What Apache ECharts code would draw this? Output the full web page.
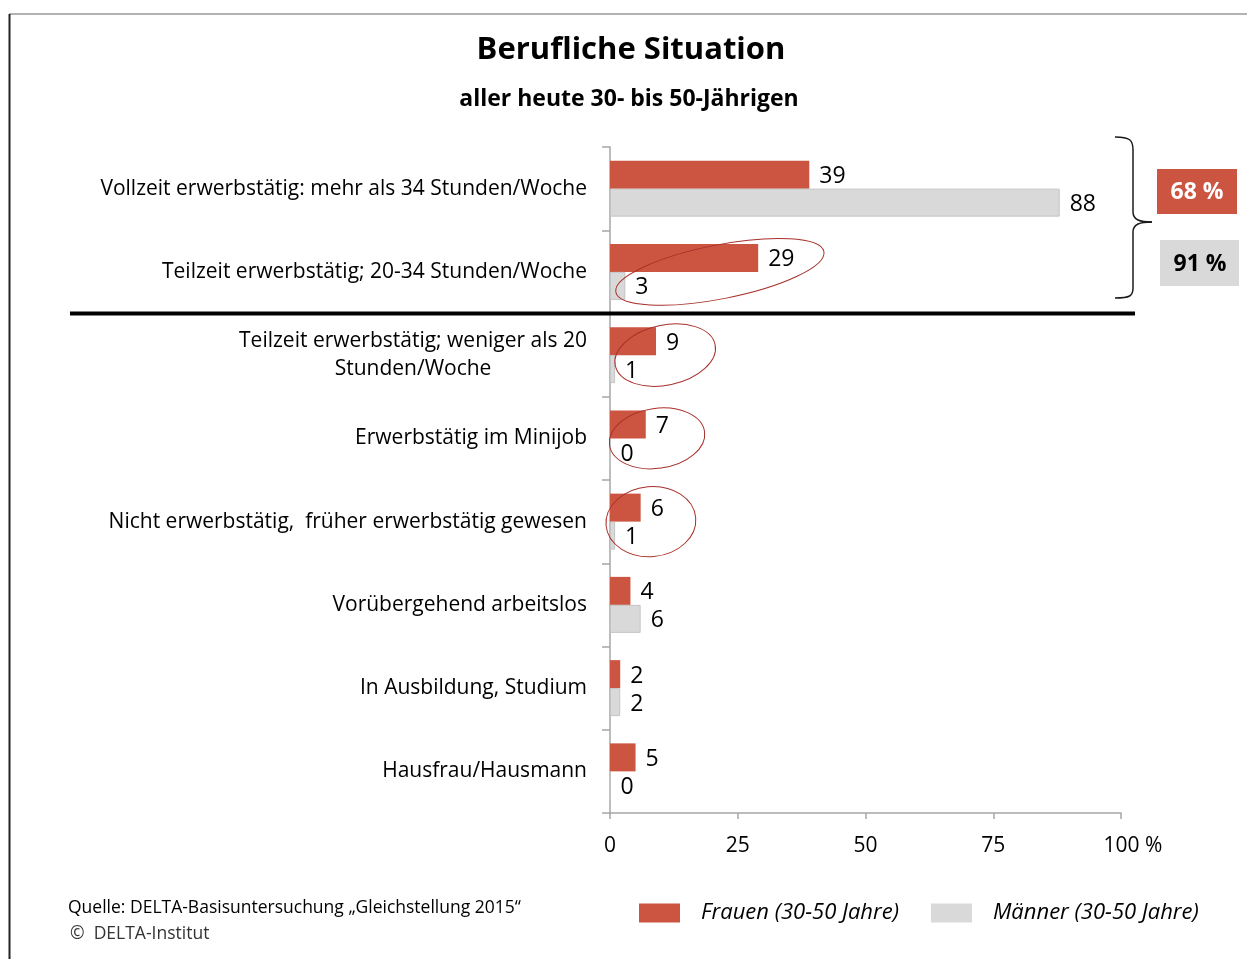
<!DOCTYPE html>
<html>
<head>
<meta charset="utf-8">
<script src="https://cdn.jsdelivr.net/npm/echarts@6/dist/echarts.min.js"></script>
<style>
  html, body { margin: 0; padding: 0; background: #fff; }
  #chart { width: 1247px; height: 959px; }
</style>
</head>
<body>
<div id="chart"></div>
<script>
// Kategorien (von oben nach unten)
const categories = [
  'Vollzeit erwerbstätig: mehr als 34 Stunden/Woche',
  'Teilzeit erwerbstätig; 20-34 Stunden/Woche',
  'Teilzeit erwerbstätig; weniger als 20\nStunden/Woche',
  'Erwerbstätig im Minijob',
  'Nicht erwerbstätig,  früher erwerbstätig gewesen',
  'Vorübergehend arbeitslos',
  'In Ausbildung, Studium',
  'Hausfrau/Hausmann'
]
const frauen = [39, 29, 9, 7, 6, 4, 2, 5]
const maenner = [88, 3, 1, 0, 1, 6, 2, 0]
const xTicks = [0, 25, 50, 75, 100]
const seriesNames = ['Frauen (30-50 Jahre)', 'Männer (30-50 Jahre)']
const sumFrauen = '68 %'
const sumMaenner = '91 %'

const RED = '#cb5540'
const GREY = '#d9d9d9'
const FONT = 'Open Sans'

const chart = echarts.init(document.getElementById('chart'))

const option = {
  animation: false,
  textStyle: { fontFamily: FONT },
  title: [
    {
      text: 'Berufliche Situation',
      left: 626, top: 30, textAlign: 'center',
      textStyle: { fontSize: 31, fontWeight: 'bold', color: '#000', fontFamily: FONT }
    },
    {
      text: 'aller heute 30- bis 50-Jährigen',
      left: 624, top: 83, textAlign: 'center',
      textStyle: { fontSize: 23, fontWeight: 'bold', color: '#000', fontFamily: FONT }
    }
  ],
  legend: {
    left: 639, top: 902, padding: 0,
    itemWidth: 41, itemHeight: 19, itemGap: 32,
    icon: 'rect',
    itemStyle: { borderWidth: 0 },
    textStyle: { fontSize: 22, fontStyle: 'italic', color: '#000', fontFamily: FONT, padding: [0, 0, 0, 16] },
    data: seriesNames
  },
  grid: { left: 610, right: 126, top: 147, bottom: 146, containLabel: false },
  xAxis: {
    type: 'value', min: 0, max: 100, interval: 25,
    axisLine: { show: true, lineStyle: { color: '#a6a6a6', width: 1.5 } },
    axisTick: { show: true, length: 6, lineStyle: { color: '#a6a6a6', width: 1.5 } },
    splitLine: { show: false },
    axisLabel: {
      margin: 23, fontSize: 21, color: '#000', fontFamily: FONT,
      formatter: v => (xTicks.indexOf(v) === xTicks.length - 1 ? '{p|' + v + ' %}' : String(v)),
      rich: { p: { fontSize: 21, fontFamily: FONT, color: '#000', padding: [0, 0, 0, 24] } }
    }
  },
  yAxis: {
    type: 'category', inverse: true, data: categories,
    axisLine: { show: true, lineStyle: { color: '#a6a6a6', width: 1.5 } },
    axisTick: { show: true, length: 8, lineStyle: { color: '#a6a6a6', width: 1.5 } },
    axisLabel: {
      margin: 23, fontSize: 21, color: '#000', fontFamily: FONT, lineHeight: 28,
      formatter: v => v.split('\n').map(s => '{c|' + s + '}').join('\n'),
      rich: { c: { align: 'center', fontSize: 21, fontFamily: FONT, color: '#000', lineHeight: 28 } }
    }
  },
  series: [
    {
      name: seriesNames[0], type: 'bar', data: frauen,
      barWidth: 28, barGap: '0%',
      itemStyle: { color: RED },
      label: { show: true, position: 'right', distance: 10, fontSize: 23, color: '#000', fontFamily: FONT, offset: [0, 2] }
    },
    {
      name: seriesNames[1], type: 'bar', data: maenner,
      barWidth: 28,
      itemStyle: { color: GREY, borderColor: '#c4c4c4', borderWidth: 1 },
      label: { show: true, position: 'right', distance: 10, fontSize: 23, color: '#000', fontFamily: FONT, offset: [0, 2] }
    }
  ]
}

chart.setOption(option)

// Anmerkungen: Ellipsen um die Werte [kategorie, x-wert, rx, ry, drehung in grad]
const ellipsen = [
  [1, 21.5, 106, 27, 11],
  [2, 10.8, 51, 30, 12],
  [3, 9.2, 48, 30, 8],
  [4, 8, 45, 35, 5]
]

const graphics = []
ellipsen.forEach(e => {
  const p = chart.convertToPixel({ xAxisIndex: 0, yAxisIndex: 0 }, [e[1], e[0]])
  graphics.push({
    type: 'ellipse', x: p[0], y: p[1], rotation: e[4] * Math.PI / 180,
    shape: { cx: 0, cy: 0, rx: e[2], ry: e[3] },
    style: { fill: 'none', stroke: '#a8302a', lineWidth: 1 }, z: 10
  })
})

// dicke Trennlinie zwischen Kategorie 2 und 3
const yA = chart.convertToPixel({ yAxisIndex: 0 }, 1)
const yB = chart.convertToPixel({ yAxisIndex: 0 }, 2)
const yTrenn = (yA + yB) / 2
graphics.push({
  type: 'line', shape: { x1: 70, y1: yTrenn, x2: 1135, y2: yTrenn },
  style: { stroke: '#000', lineWidth: 4 }, z: 20
})

// geschweifte Klammer
const bs = { stroke: '#1a1a1a', lineWidth: 1.5, fill: 'none' }
graphics.push(
  { type: 'bezierCurve', shape: { x1: 1115, y1: 137, cpx1: 1130, cpy1: 137, cpx2: 1133, cpy2: 140, x2: 1133, y2: 150 }, style: bs },
  { type: 'line', shape: { x1: 1133, y1: 150, x2: 1133, y2: 212 }, style: bs },
  { type: 'bezierCurve', shape: { x1: 1133, y1: 212, cpx1: 1133, cpy1: 220, cpx2: 1140, cpy2: 222, x2: 1152, y2: 222 }, style: bs },
  { type: 'bezierCurve', shape: { x1: 1152, y1: 222, cpx1: 1140, cpy1: 222, cpx2: 1133, cpy2: 224, x2: 1133, y2: 232 }, style: bs },
  { type: 'line', shape: { x1: 1133, y1: 232, x2: 1133, y2: 288 }, style: bs },
  { type: 'bezierCurve', shape: { x1: 1133, y1: 288, cpx1: 1133, cpy1: 296, cpx2: 1130, cpy2: 298, x2: 1115, y2: 298 }, style: bs }
)

// Summenboxen
graphics.push(
  { type: 'rect', shape: { x: 1157, y: 169, width: 80, height: 45 }, style: { fill: RED } },
  { type: 'text', x: 1197, y: 192, style: { text: sumFrauen, fill: '#fff', font: 'bold 23px "Open Sans"', align: 'center', verticalAlign: 'middle' } },
  { type: 'rect', shape: { x: 1160, y: 240, width: 79, height: 46 }, style: { fill: GREY } },
  { type: 'text', x: 1200, y: 264, style: { text: sumMaenner, fill: '#000', font: 'bold 23px "Open Sans"', align: 'center', verticalAlign: 'middle' } }
)

// Quelle
graphics.push(
  { type: 'text', x: 68, y: 908, style: { text: 'Quelle: DELTA-Basisuntersuchung „Gleichstellung 2015“', fill: '#000', font: '17.5px "Open Sans"', verticalAlign: 'middle' } },
  { type: 'text', x: 70, y: 934, style: { text: '©  DELTA-Institut', fill: '#333', font: '17.5px "Open Sans"', verticalAlign: 'middle' } }
)

// Rahmen
graphics.push(
  { type: 'line', shape: { x1: 9, y1: 14, x2: 1247, y2: 14 }, style: { stroke: '#9a9a9a', lineWidth: 1.5 } },
  { type: 'line', shape: { x1: 9.5, y1: 14, x2: 9.5, y2: 959 }, style: { stroke: '#222', lineWidth: 2 } }
)

chart.setOption({ graphic: graphics })
</script>
</body>
</html>
